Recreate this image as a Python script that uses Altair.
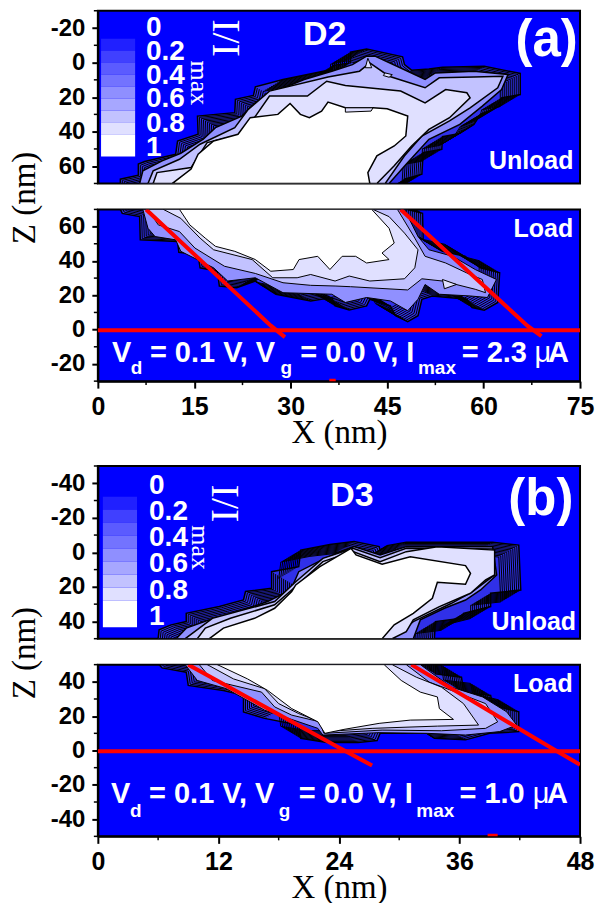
import altair as alt
import pandas as pd

BLUE = "#0000ff"
FILLS = ["#3030e8", "#9090ff", "#c2c2ff", "#e0e0ff", "#ffffff"]
SANS = "Liberation Sans"
SERIF = "Liberation Serif"

# ---- contour outlines, (X nm, Z nm) ----
a_top_outer = [(3.5,70),(3.5,67.5),(6.3,65.2),(6.3,58.8),(7.3,57.3),(12.1,53.1),(12.4,45.4),(15.6,41.5),(15.5,31),(21.3,29),(21.4,21.3),(24.2,19),(24.5,14),(28.8,9.8),(36.4,4),(36.6,1.7),(39.3,.2),(39.3,-6),(41.8,-7.9),(47.4,-3.3),(47.7,1.2),(48.8,4.4),(51.5,3.7),(53.6,2.7),(60.1,2.1),(65.7,6.3),(65.7,18.5),(62.8,20.4),(62.5,25.2),(59.5,30),(58.5,35.8),(56.3,41),(53.6,42.9),(53.5,50.2),(50.6,52.1),(50.4,64.6),(47.7,67.5),(47.4,70)]
a_top_l1 = [(6.5,70),(7,62.7),(10,56.9),(12.9,52.5),(16.4,44.4),(18.3,37.7),(22.4,31),(24.5,23.3),(26.7,17.9),(32.1,9.8),(36.4,5),(39.6,1.2),(41.8,-3.7),(43.1,-3.7),(48.2,5),(50.9,9.8),(52.5,6),(58.5,5),(63.8,6.9),(62.8,15.6),(59.8,25.2),(56.3,35.8),(51.5,44.4),(48.2,57.9),(45.3,70)]
a_top_l2 = [(7.8,70),(8.6,62.7),(12.7,56),(15.9,47.3),(21.3,37.7),(23.4,27.1),(26.7,16.5),(35.8,8.3),(40.7,5),(42.3,.2),(45.3,7.9),(50.9,14.6),(53.1,8.8),(58.5,8.3),(63,7.9),(62.2,14.6),(57.9,26.2),(54.7,33.8),(50.4,42.5),(47.7,54),(44.7,70)]
a_top_l3 = [(8.6,70),(9.2,63.7),(14.5,60.8),(17,46.3),(22.4,41.5),(24,33.8),(26.7,19.4),(32.6,19.4),(35.6,10.8),(38.5,13.3),(47.1,16.5),(50.9,23.3),(54.1,15.6),(57.4,17.5),(57.9,20.4),(54.7,31.9),(51.5,38.7),(48.8,48.3),(46.1,59.8),(43.4,70)]
a_top_l4 = [(11.6,70),(14.5,61.7),(15.6,53.1),(18,45.4),(21.8,41.5),(23.7,31.9),(28,30),(29.9,23.7),(31.5,30),(32.9,31.9),(34.8,28.1),(35.8,22.9),(38.5,26.2),(42.8,26.2),(45,26.7),(48.2,31),(47.9,42.5),(46.1,48.3),(43.4,54),(42,63.7),(42.3,70)]
a_top_loops = [[(38.5,26.2),(42.8,26.2),(42.5,28.1),(38.5,28.7),(38.5,26.2)],[(42,-2.5),(42.6,3),(41.6,3),(42,-2.5)],[(44.7,6),(45.8,7),(45.3,8.5),(44.4,7.5),(44.7,6)]]

a_low_outer = [(3.5,70),(3.8,67.7),(6.5,65.8),(6.6,52.3),(12.4,51.3),(12.6,45),(15.6,43.7),(15.9,36),(18.6,34),(18.9,25.4),(21.6,24.4),(24.5,28.3),(27.7,20.6),(33.1,16.7),(36.4,18.7),(36.9,13.8),(39.1,11.5),(41.8,13.8),(42.3,17.7),(45.5,13.8),(46.3,8.1),(48.2,4.6),(49.8,8.1),(50.4,17.7),(52,19.6),(57.4,17.7),(58.2,12.9),(60.1,11.3),(62.2,15.8),(62.5,33.1),(59.5,36),(57.1,42.7),(53.6,45.6),(50.6,52.3),(50.5,67.7),(48.2,70)]
a_low_l1 = [(7,70),(7.8,59),(8.9,54.2),(12.1,52.3),(12.9,45.6),(18,36),(20.2,28.3),(24.5,30.2),(28.8,21.5),(36.4,20.6),(38.5,15.8),(41.8,18.7),(45.5,16.7),(48.2,11),(49.8,17.7),(50.9,26.3),(53.1,20.6),(57.9,19.6),(60.6,18.7),(62,29.2),(58.7,35),(55.2,42.7),(51.5,46.5),(49.8,54.2),(47.7,70)]
a_low_l2 = [(7.8,70),(9.4,61),(12.7,57.1),(15.1,47.5),(19.7,36.9),(24.5,32.7),(28.8,27.3),(33.1,25.8),(36.9,25.4),(39.3,25),(48.2,23.1),(50.4,29.6),(53.6,28.3),(58.7,23.5),(60.3,21.5),(59.8,29.2),(57.9,32.1),(54.1,38.8),(50.9,42.7),(49.3,53.3),(46.6,70)]
a_low_l3 = [(10.2,70),(12.9,64.8),(15.9,53.3),(18,46.5),(24,40.8),(27.2,30.2),(31,30.2),(33.1,32.1),(36.9,28.3),(39.1,31.2),(42.3,28.3),(47.7,29.6),(49.3,36),(49.8,46.5),(47.7,56.2),(45.3,65.8),(42.8,70)]
a_low_l4 = [(12.7,70),(14.3,61),(16.7,53.3),(18.3,48.5),(21.3,45.6),(24.5,40.8),(26.9,34),(30.4,35),(31.3,40.8),(34.2,42.7),(36.1,35),(38,42.7),(40.1,42.7),(41.8,38.8),(45.3,40.8),(44.2,44.6),(46.1,50.4),(45.3,59),(42.6,70)]
a_low_loops = [[(53.6,29.2),(55.8,26.3),(53.9,23.8),(53.6,29.2)]]

b_top_outer = [(6,50),(6.1,44.9),(7.3,42),(8.8,40.1),(8.8,35.3),(12.1,31.4),(14.5,27.6),(14.7,22.7),(17.3,20.8),(17.3,11.2),(20,8.3),(20.2,-1.3),(23.1,-4.6),(25.5,-6.2),(28,-3.3),(28.1,-1.3),(28.8,-3.9),(30.7,-5.8),(39.3,-5.8),(41.9,-4.2),(42.1,21.8),(39.1,23.7),(39.1,31.4),(36.4,35.3),(36.2,38.2),(33.6,40.1),(33.5,50)]
b_top_l1 = [(7.8,50),(8.8,43.9),(11.1,39.1),(14.5,33.3),(16.9,28.5),(19.2,21.8),(20,11.2),(22.6,3.5),(25.5,-3.3),(28.1,1.5),(30.7,-3.3),(39.3,-3.3),(39.7,13.1),(38.1,21.8),(36.6,27.6),(34.5,32.4),(32.1,39.1),(31.4,50)]
b_top_l2 = [(8.7,50),(10.1,43.9),(11.4,38.2),(17.6,28.5),(19.7,17),(22.4,3.5),(25.4,-2.3),(28.1,3.1),(30.7,-2.3),(39.3,-1.9),(39.5,13.1),(37.3,22.7),(35.2,29.5),(31.4,40.1),(29.3,50)]
b_top_l3 = [(9.9,50),(10.7,43.9),(13.2,38.2),(17.6,30.4),(19.7,19.8),(22.4,5.4),(25.4,-.4),(28.1,5.4),(30.7,-.4),(33.8,-3.3),(39.5,-1.3),(39.5,13.1),(38.6,16),(37.1,23.7),(34,31.4),(31.4,39.1),(30.7,45.9),(29.3,50)]
b_top_l4 = [(11.1,50),(12.5,43.9),(15.6,38.2),(17.6,32.4),(19.3,22.7),(19.7,18.9),(22.1,8.3),(25.2,-2.3),(25.7,1.5),(28.3,6.9),(31.1,2.5),(36.6,7.7),(37.1,12.1),(36.6,18.5),(33.8,17.3),(33.3,26.6),(31.4,35.3),(29.5,42),(28.3,50)]

b_low_outer = [(6.1,50),(6.4,48.1),(8.8,45.6),(9,37.9),(12.5,35),(14.5,32.1),(14.5,22.5),(16.6,18.7),(20,14.8),(20.2,7.1),(22.8,4.6),(25.9,4.6),(27.8,5.8),(28.1,10),(32.8,10),(33.5,7.1),(36.6,6.2),(39,10),(41.9,11),(41.9,22.5),(39.3,26.3),(39.1,32.1),(36.4,34),(36.2,42.7),(33.6,44.6),(33.6,50)]
b_low_l1 = [(8.7,50),(9.9,40.8),(12.8,36),(16.6,23.5),(19,18.7),(21.9,12.9),(22.4,9),(28,10.4),(32.8,10),(36.6,9),(40,11),(41.7,14.8),(40.7,22.5),(38.3,31.2),(35.2,36.9),(32.1,50)]
b_low_l2 = [(10.1,50),(11.4,40.8),(16.3,34),(17.6,25.4),(19.3,20.6),(22.1,16.7),(22.5,10),(28.3,11.9),(34.2,11.5),(38.6,12.9),(39.8,16.7),(38.6,27.3),(35.2,35),(33,39.8),(30.7,50)]
b_low_l3 = [(10.9,50),(13.5,41.7),(16.6,36),(18,27.3),(20,21.5),(22.1,16.7),(22.6,11),(27.3,12.9),(33.8,14.2),(37.9,14.8),(36.4,27.3),(34.2,36.9),(31.7,42.7),(29.3,50)]
b_low_l4 = [(11.9,50),(14.9,41.7),(16.9,35),(19.3,24.4),(21.9,16.7),(22.6,10),(24.5,12.3),(28,15.8),(31.1,17.7),(35.4,18.1),(34,24.4),(33.8,31.2),(32.1,34),(30.2,40.8),(28.5,50)]

# ---- red lines ----
a_red = [[(7.5,70),(26.9,2.3),(29.1,-4.4)],[(47.1,70),(66.8,2.3),(69,-3.8)],[(0,-.4),(75,-.4)],[(36,-29.8),(37,-29.8)]]
b_red = [[(9,50),(23.8,2.3),(27.3,-8.8)],[(31.2,50),(45.2,1.3),(48,-8.3)],[(0,-.4),(48,-.4)],[(38.8,-49.6),(39.8,-49.6)]]

# ---- legend ----
a_band_tops = [-13.8,-6.9,0,6.9,13.8,20.8,27.7,34.6,41.5]
a_band_ends = [-6.9,0,6.9,13.8,20.8,27.7,34.6,41.5,54.4]
b_band_tops = [-32.2,-24.7,-17.2,-9.6,-2.1,5.4,12.9,20.4,28.1]
b_band_ends = [-24.7,-17.2,-9.6,-2.1,5.4,12.9,20.4,28.1,43.4]
band_colors = ["#2020ff","#4040ff","#5b5bff","#7373ff","#8f8fff","#a7a7ff","#c2c2ff","#e0e0ff","#ffffff"]
legend_labels = ["0","0.2","0.4","0.6","0.8","1"]
a_label_z = [-20,-6.2,7.9,21.3,35.4,49.2]
b_label_z = [-38.5,-23.5,-8.1,6.9,22.2,37.2]

W = 483


def rows(points, **extra):
    return pd.DataFrame([dict(x=p[0], z=p[1], i=n, **extra) for n, p in enumerate(points)])


def panel(xd, yd, h, outlines, hatch_side, loops, red, texts, bands, yticks, yminor, xticks=None, xminor=None, ztitle=False, line_w=1.5):
    xax = alt.Axis(values=xticks, title="X (nm)", grid=False, labelFont=SANS, labelFontWeight="bold", labelFontSize=25,
                   labelColor="black", titleFont=SERIF, titleFontWeight="normal", titleFontSize=33, titleColor="black",
                   domainColor="black", domainWidth=2, tickColor="black", tickWidth=2, tickSize=7, labelPadding=6,
                   titlePadding=-3, labelFlush=False, labelExpr="datum.value") if xticks else None
    yax = alt.Axis(values=yticks, title="Z (nm)" if ztitle else None, grid=False, labelFont=SANS, labelFontWeight="bold",
                   labelFontSize=24, labelColor="black", domainColor="black", domainWidth=2, tickColor="black", tickWidth=2,
                   tickSize=6, labelPadding=7, labelExpr="datum.value", titleFont=SERIF, titleFontWeight="normal",
                   titleFontSize=33, titleColor="black", titleX=-56, titleY=-12, titleAngle=270, labelOverlap=False)
    x = alt.X("x:Q", scale=alt.Scale(domain=xd, nice=False, zero=False), axis=xax)
    y = alt.Y("z:Q", scale=alt.Scale(domain=yd, nice=False, zero=False), axis=yax)

    layers = []
    outer = outlines[0]
    mid = (outer[0][0] + outer[-1][0]) / 2
    left = [p for p in outer if p[0] <= mid]
    right = [p for p in outer if p[0] > mid]
    layers.append(alt.Chart(rows(outer + outer[:1])).mark_line(fill=FILLS[0], stroke="black", strokeWidth=1.5, clip=True).encode(x=x, y=y, order="i:Q"))
    for k in range(2, 22, 2):
        dy = k * 0.6 * hatch_side
        layers.append(alt.Chart(rows(left)).mark_line(stroke="black", strokeWidth=1, clip=True, xOffset=k, yOffset=dy).encode(x=x, y=y, order="i:Q"))
        layers.append(alt.Chart(rows(right)).mark_line(stroke="black", strokeWidth=1, clip=True, xOffset=-k, yOffset=dy).encode(x=x, y=y, order="i:Q"))
    for n, outline in enumerate(outlines[1:], start=1):
        layers.append(alt.Chart(rows(outline + outline[:1])).mark_line(fill=FILLS[n], stroke="black", strokeWidth=line_w, clip=True).encode(x=x, y=y, order="i:Q"))
    for loop in loops:
        layers.append(alt.Chart(rows(loop)).mark_line(fill=FILLS[3], stroke="black", strokeWidth=1, clip=True).encode(x=x, y=y, order="i:Q"))
    for r in red:
        layers.append(alt.Chart(rows(r)).mark_line(color="#ff0000", strokeWidth=4, clip=True).encode(x=x, y=y, order="i:Q"))

    if bands:
        lx, hx, tops, ends = bands
        df = pd.DataFrame({"x": [lx] * 9, "x2": [hx] * 9, "z": tops, "z2": ends, "c": band_colors})
        layers.append(alt.Chart(df).mark_rect().encode(x=x, x2="x2:Q", y=y, y2="z2:Q", color=alt.Color("c:N", scale=None)))

    # minor ticks sit just outside the frame
    layers.append(alt.Chart(pd.DataFrame({"z": yminor})).mark_rule(color="black", strokeWidth=1.5, clip=False).encode(y=y, x=alt.value(-4), x2=alt.value(0)))
    if xminor:
        layers.append(alt.Chart(pd.DataFrame({"x": xminor})).mark_rule(color="black", strokeWidth=1.5, clip=False).encode(x=x, y=alt.value(h), y2=alt.value(h + 4)))

    for t in texts:
        text, tx, tz, size, font, weight, angle, align = t
        layers.append(alt.Chart(pd.DataFrame({"x": [tx], "z": [tz], "t": [text]})).mark_text(
            color="white", fontSize=size, font=font, fontWeight=weight, angle=angle, align=align, baseline="middle"
        ).encode(x=x, y=y, text="t:N"))
    return alt.layer(*layers).properties(width=W, height=h)


def T(text, x, z, size=25, font=SANS, weight="bold", angle=0, align="center"):
    return (text, x, z, size, font, weight, angle, align)


a_top_texts = [T("D2", 35.3, -16.2, 34), T("(a)", 69.8, -12.3, 51), T("Unload", 67.4, 56.9, 25),
               T("I/I", 19.7, -14.2, 40, SERIF, "normal", 90), T("max", 15.8, 11.7, 26, SERIF, "normal", 90)]
a_top_texts += [T(s, 7.5, z, 28, align="left") for s, z in zip(legend_labels, a_label_z)]
b_top_texts = [T("D3", 25.3, -32.8, 34), T("(b)", 44.1, -30.3, 51), T("Unload", 43.4, 40.1, 25),
               T("I/I", 12.6, -28.3, 40, SERIF, "normal", 90), T("max", 10.2, -2.7, 26, SERIF, "normal", 90)]
b_top_texts += [T(s, 5.1, z, 28, align="left") for s, z in zip(legend_labels, b_label_z)]


def cond(xs, main, sub, amp):
    pieces = [("V", 0, main, 29), ("d", 1, sub, 19), ("= 0.1 V, V", 2, main, 29), ("g", 3, sub, 19),
              ("= 0.0 V, I", 4, main, 29), ("max", 5, sub, 19), (amp, 6, main, 29), ("A", 8, main, 29)]
    out = [T(p[0], xs[p[1]], p[2], p[3], align="left") for p in pieces]
    out.append(T("\u03bc", xs[7], main, 29, weight="normal", align="left"))
    return out


a_low_texts = [T("Load", 69.3, 58.5, 25)] + cond([2.2, 5.1, 8.1, 28.4, 31.5, 49.8, 56.6, 67.9, 70.0], -13.5, -22.3, "= 2.3")
b_low_texts = [T("Load", 44.3, 38.8, 25)] + cond([1.3, 3.2, 5.1, 18.0, 20.0, 31.7, 36.0, 43.3, 44.7], -25.6, -35.2, "= 1.0")

a_yt = [-20, 0, 20, 40, 60]
a_ym = [-30, -10, 10, 30, 50, 70]
b_yt = [-40, -20, 0, 20, 40]
b_ym = [-30, -10, 10, 30, -50, 50]

a1 = panel([0, 75], [70, -30], 173, [a_top_outer, a_top_l1, a_top_l2, a_top_l3, a_top_l4], 1, a_top_loops, [], a_top_texts,
           (0.5, 5.8, a_band_tops, a_band_ends), a_yt, a_ym)
a2 = panel([0, 75], [-30, 70], 172, [a_low_outer, a_low_l1, a_low_l2, a_low_l3, a_low_l4], -1, a_low_loops, a_red, a_low_texts,
           None, a_yt, a_ym, xticks=[0, 15, 30, 45, 60, 75], xminor=[7.5, 22.5, 37.5, 52.5, 67.5], ztitle=True, line_w=1)
b1 = panel([0, 48], [50, -50], 173, [b_top_outer, b_top_l1, b_top_l2, b_top_l3, b_top_l4], 1, [], [], b_top_texts,
           (0.5, 3.9, b_band_tops, b_band_ends), b_yt, b_ym)
b2 = panel([0, 48], [-50, 50], 172, [b_low_outer, b_low_l1, b_low_l2, b_low_l3, b_low_l4], -1, [], b_red, b_low_texts,
           None, b_yt, b_ym, xticks=[0, 12, 24, 36, 48], xminor=[6, 18, 30, 42], ztitle=True, line_w=1)

spacer = alt.Chart(pd.DataFrame({"k": [0]})).mark_point(opacity=0).encode(x=alt.value(0), y=alt.value(0)).properties(
    width=W, height=33, view=alt.ViewBackground(fill="transparent", stroke="transparent"))

chart = alt.vconcat(a1, a2, spacer, b1, b2, spacing=26, bounds="flush").properties(
    padding={"left": 0, "top": 0, "right": 0, "bottom": 0}, background="white"
).configure_view(fill=BLUE, stroke="black", strokeWidth=2)

chart.save("out.html", embed_options={"renderer": "svg", "actions": False})
